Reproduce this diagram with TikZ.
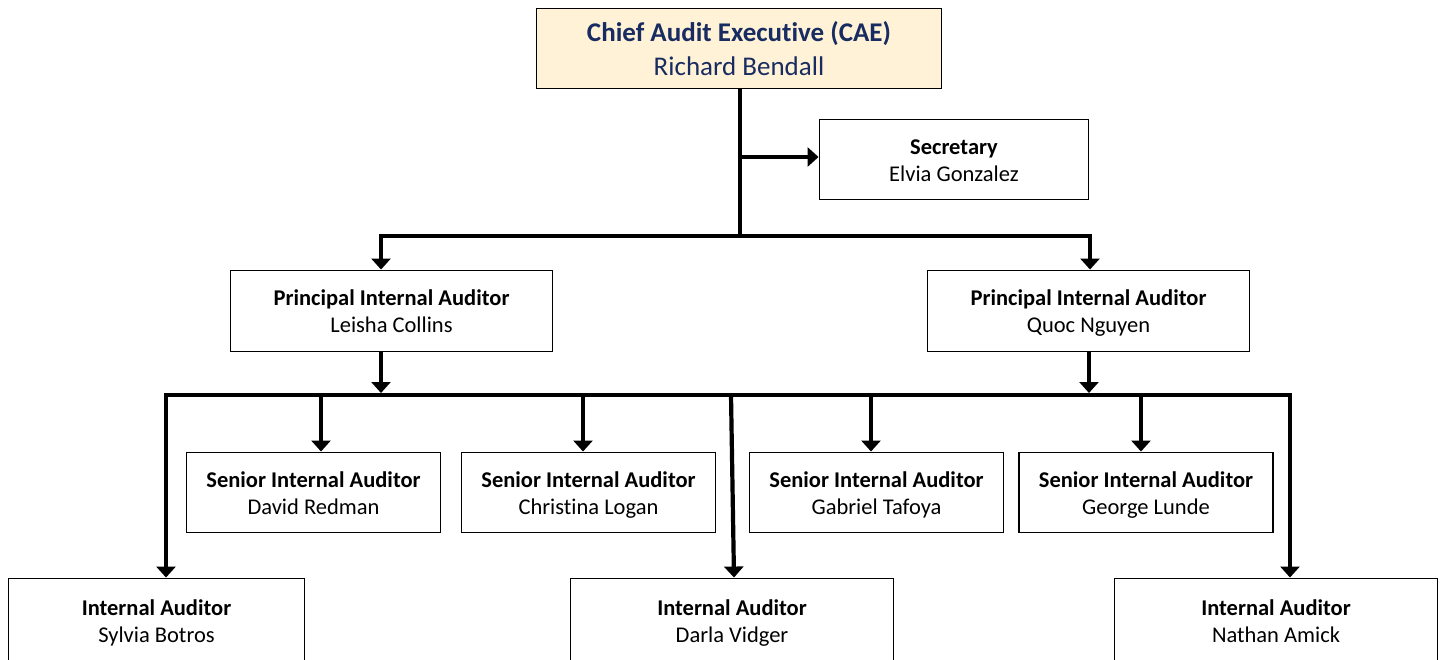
\documentclass[tikz,border=0pt]{standalone}
\usepackage{fontspec}
\setmainfont{Carlito}[Ligatures=NoCommon]
\usetikzlibrary{arrows.meta}
\definecolor{caefill}{RGB}{255,242,214}
\definecolor{caetext}{RGB}{24,44,98}
% two-line role label: bold title over the person's name
\newcommand\roletext[2]{\textbf{#1}\rule{0pt}{\dimexpr0.7\baselineskip+6pt\relax}\\#2\strut}
\begin{document}
\begin{tikzpicture}[x=1pt,y=-1pt,
  box/.style={draw=black,line width=1.9pt,fill=white,align=center,inner sep=0pt,
    font=\fontsize{22.5}{27}\selectfont},
  senior/.style={box,minimum width=254pt,minimum height=80pt},
  staff/.style={box,minimum width=323pt,minimum height=84pt},
  link/.style={line width=4.2pt,line join=miter},
  tip/.tip={Triangle[width=19pt,length=11pt]},
  arr/.style={link,-tip},
  arrs/.style={link,tip-tip},
]
\clip (0,0) rectangle (1442,660);
\fill[white] (0,0) rectangle (1442,660);

% chief and secretary
\node[box,fill=caefill,text=caetext,minimum width=405pt,minimum height=80pt,
  font=\fontsize{27}{34}\selectfont] (cae) at (739,48.5)
  {\roletext{Chief Audit Executive (CAE)}{Richard Bendall}};
\node[box,minimum width=269pt,minimum height=80pt] (sec) at (954,159.5)
  {\roletext{Secretary}{Elvia Gonzalez}};

% principal auditors
\node[box,minimum width=322pt,minimum height=81pt] (pL) at (391.5,311)
  {\roletext{Principal Internal Auditor}{Leisha Collins}};
\node[box,minimum width=322pt,minimum height=81pt] (pR) at (1088.5,311)
  {\roletext{Principal Internal Auditor}{Quoc Nguyen}};

% senior auditors
\node[senior] (david) at (313.5,492.5) {\roletext{Senior Internal Auditor}{David Redman}};
\node[senior] (christina) at (588.5,492.5) {\roletext{Senior Internal Auditor}{Christina Logan}};
\node[senior] (gabriel) at (876.5,492.5) {\roletext{Senior Internal Auditor}{Gabriel Tafoya}};
\node[senior] (george) at (1146,492.5) {\roletext{Senior Internal Auditor}{George Lunde}};

% internal auditors
\node[staff,minimum width=296pt] (sylvia) at (156.5,620.5) {\roletext{Internal Auditor}{Sylvia Botros}};
\node[staff] (darla) at (732,620.5) {\roletext{Internal Auditor}{Darla Vidger}};
\node[staff] (nathan) at (1276,620.5) {\roletext{Internal Auditor}{Nathan Amick}};

% junction points
\coordinate (j0) at (740,236);
\coordinate (j1) at (740,157);
\coordinate (uL) at (381,236);
\coordinate (uR) at (1090,236);
\coordinate (mL) at (381,393);
\coordinate (mR) at (1089,393);
\coordinate (lL) at (166,395);
\coordinate (lR) at (1290,395);
\coordinate (d1) at (321,395);
\coordinate (d2) at (583,395);
\coordinate (d3) at (731,395);
\coordinate (d3e) at (734,0);
\coordinate (d4) at (871,395);
\coordinate (d5) at (1141,395);

% chief's trunk and secretary
\draw[link] (cae.south -| j0) -- (j0);
\draw[arr] (j1) -- (j1 -| sec.west);

% upper bus to principals
\draw[arrs] (uL |- pL.north) -- (uL) -- (uR) -- (uR |- pR.north);

% principals to lower bus
\draw[arr] (pL.south -| mL) -- (mL);
\draw[arr] (pR.south -| mR) -- (mR);

% lower bus to staff
\draw[arrs] (lL |- sylvia.north) -- (lL) -- (lR) -- (lR |- nathan.north);
\draw[arr] (d1) -- (d1 |- david.north);
\draw[arr] (d2) -- (d2 |- christina.north);
\draw[arr] (d3) -- (d3e |- darla.north);
\draw[arr] (d4) -- (d4 |- gabriel.north);
\draw[arr] (d5) -- (d5 |- george.north);
\end{tikzpicture}
\end{document}
